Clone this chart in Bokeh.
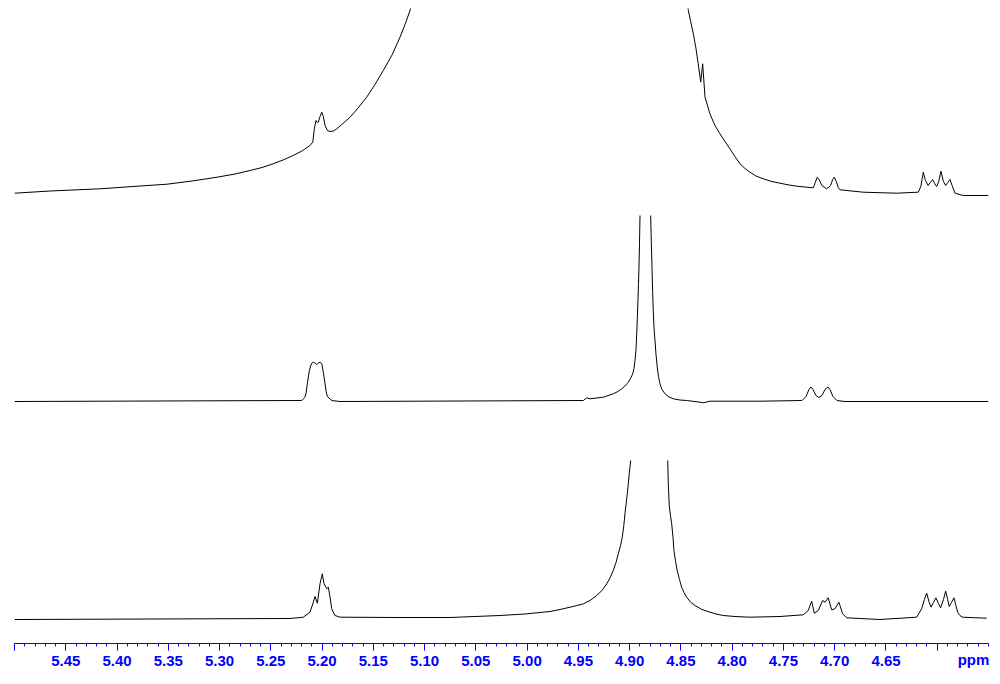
import numpy as np
from bokeh.plotting import figure
from bokeh.models import Range1d, FixedTicker
from bokeh.embed import file_html
from bokeh.resources import INLINE

nan = float("nan")

# ---- tick values (ppm) ----
major_ticks = [5.50, 5.45, 5.40, 5.35, 5.30, 5.25, 5.20, 5.15, 5.10, 5.05, 5.00,
               4.95, 4.90, 4.85, 4.80, 4.75, 4.70, 4.65, 4.60]
tick_labels = ["", "5.45", "5.40", "5.35", "5.30", "5.25", "5.20", "5.15", "5.10", "5.05",
               "5.00", "4.95", "4.90", "4.85", "4.80", "4.75", "4.70", "4.65", ""]
axis_title = "ppm"

# ---- top spectrum (intensity above its own baseline) ----
top_ppm = [5.500, 5.4653, 5.4165, 5.3844, 5.3512, 5.3268, 5.3024, 5.2849, 5.2703,
           5.2586, 5.2478, 5.2381, 5.2283, 5.2196, 5.2118, 5.2091,
           5.2075, 5.2059, 5.2047, 5.2037, 5.2020, 5.2003, 5.1988, 5.1971, 5.1948,
           5.1922, 5.1890, 5.1857, 5.1796, 5.1727, 5.1649, 5.1565, 5.1484, 5.1403,
           5.1318, 5.1240, 5.1191, 5.1142, 5.1110,
           nan,
           4.8445, 4.8428, 4.8407, 4.8379, 4.8353, 4.8331, 4.8307, 4.8288, 4.8265,
           4.8217, 4.8168, 4.8119, 4.8070, 4.8022, 4.7973, 4.7924, 4.7875, 4.7827,
           4.7768, 4.7697, 4.7622, 4.7534, 4.7456, 4.7371, 4.7209, 4.7190,
           4.7170, 4.7150, 4.7125, 4.7079, 4.7040, 4.7020, 4.7004, 4.6985, 4.6965,
           4.6949, 4.6722, 4.6396, 4.6185, 4.6160, 4.6136, 4.6115, 4.6088, 4.6068,
           4.6045, 4.6025, 4.6006, 4.5985, 4.5964, 4.5940, 4.5918, 4.5897, 4.5876,
           4.5855, 4.5827, 4.5746, 4.5583, 4.5500]
top_int = [3.3, 5.5, 7.7, 10.0, 12.3, 15.5, 19.3, 22.5, 26.0,
           29.0, 32.7, 36.5, 41.0, 45.5, 51.0, 54.3,
           68.0, 76.0, 74.0, 74.3, 80.0, 84.3, 80.0, 71.0, 66.0,
           65.0, 65.5, 67.7, 73.0, 79.3, 88.5, 99.3, 112.0, 126.0,
           141.5, 159.3, 172.0, 186.0, 205.0,
           nan,
           205.0, 186.0, 176.0, 162.7, 148.0, 132.7, 114.3, 132.7, 99.3,
           82.7, 71.0, 62.7, 55.0, 47.7, 40.0, 32.7, 28.0, 24.3,
           20.5, 17.7, 15.2, 13.3, 11.7, 10.3, 8.7, 14.0,
           19.3, 16.5, 11.0, 7.7, 11.0, 17.0, 19.3, 15.0, 9.0,
           6.7, 4.3, 3.3, 4.3, 10.0, 24.3, 16.0, 11.0, 14.0,
           17.0, 13.0, 10.0, 15.0, 25.3, 15.0, 11.0, 14.0, 17.0,
           11.0, 3.3, 1.0, 1.0, 1.0]

# ---- middle spectrum ----
mid_ppm = [5.500, 5.2199, 5.2166, 5.2155, 5.2144, 5.2124, 5.2112, 5.2101, 5.2085,
           5.2068, 5.2052, 5.2036, 5.2020, 5.2003, 5.1988, 5.1971, 5.1960, 5.1949,
           5.1906, 5.1825, 4.9452, 4.9419, 4.9387, 4.9257, 4.9160, 4.9114, 4.9078,
           4.9046, 4.9013, 4.8992, 4.8970, 4.8958, 4.8948, 4.8938, 4.8931, 4.8925,
           4.8919, 4.8914, 4.8909, 4.8904, 4.8899,
           nan,
           4.8795, 4.8789, 4.8782, 4.8776, 4.8770, 4.8763, 4.8753, 4.8743, 4.8731,
           4.8719, 4.8704, 4.8685, 4.8655, 4.8616, 4.8574, 4.8509, 4.8444,
           4.8314, 4.8282, 4.8217, 4.7729, 4.7319, 4.7280, 4.7251, 4.7232, 4.7212,
           4.7183, 4.7154, 4.7124, 4.7095, 4.7066, 4.7046, 4.7017, 4.6978, 4.6900,
           4.5500]
mid_int = [0.0, 1.0, 4.3, 9.0, 17.7, 31.0, 35.5, 38.3, 39.3,
           38.5, 37.0, 38.5, 39.3, 37.7, 29.3, 17.7, 10.0, 5.0,
           1.0, 0.0, 1.0, 3.7, 2.7, 4.3, 7.7, 10.0, 12.7,
           15.5, 19.3, 23.0, 27.7, 33.0, 41.0, 52.0, 67.7, 84.0,
           101.0, 117.0, 134.3, 158.0, 186.0,
           nan,
           186.0, 160.0, 134.3, 110.0, 91.0, 75.0, 61.0, 47.0, 34.3,
           25.0, 17.7, 12.0, 7.7, 4.5, 2.7, 1.5, 1.0,
           -0.7, -1.3, 0.3, 0.3, 1.0, 5.0, 12.0, 14.5, 12.0,
           6.0, 4.0, 6.0, 12.0, 14.5, 12.0, 5.0, 1.0, 0.0,
           0.0]

# ---- bottom spectrum ----
bot_ppm = [5.500, 5.2313, 5.2183, 5.2118, 5.2085, 5.2069, 5.2046, 5.2020, 5.1998,
           5.1981, 5.1955, 5.1939, 5.1922, 5.1906, 5.1874, 5.1825, 5.1240, 5.0752,
           5.0265, 5.0021, 4.9777, 4.9679, 4.9582, 4.9514, 4.9452, 4.9387, 4.9322,
           4.9270, 4.9224, 4.9192, 4.9160, 4.9133, 4.9111, 4.9089, 4.9072, 4.9057,
           4.9046, 4.9034, 4.9023, 4.9013, 4.9004, 4.8990,
           nan,
           4.8629, 4.8623, 4.8614, 4.8602, 4.8590, 4.8577, 4.8568, 4.8552, 4.8536,
           4.8514, 4.8493, 4.8470, 4.8444, 4.8407, 4.8363, 4.8295, 4.8217, 4.8158,
           4.8087, 4.7973, 4.7827, 4.7534, 4.7307, 4.7258, 4.7225, 4.7199, 4.7160,
           4.7118, 4.7095, 4.7063, 4.7030, 4.6998, 4.6959, 4.6923, 4.6883, 4.6559,
           4.6201, 4.6152, 4.6125, 4.6103, 4.6081, 4.6061, 4.6037, 4.6013, 4.5988,
           4.5967, 4.5939, 4.5918, 4.5898, 4.5883, 4.5861, 4.5837, 4.5818, 4.5801,
           4.5779, 4.5752, 4.5518]
bot_int = [0.0, 1.0, 2.3, 7.3, 17.3, 23.0, 16.3, 35.7, 45.7,
           35.7, 30.7, 32.3, 22.3, 10.7, 4.0, 2.3, 2.0, 2.0,
           4.0, 5.5, 8.0, 10.0, 12.3, 14.0, 15.7, 19.0, 24.0,
           29.0, 35.7, 41.5, 49.0, 57.0, 65.7, 74.0, 82.3, 94.0,
           105.7, 116.0, 125.7, 136.0, 145.7, 159.0,
           nan,
           159.0, 135.7, 114.0, 104.0, 95.7, 82.0, 69.0, 58.0, 49.0,
           40.0, 32.3, 27.0, 22.3, 17.5, 14.0, 10.0, 7.3, 5.5,
           4.0, 3.0, 2.3, 3.0, 4.7, 9.0, 18.3, 6.3, 9.0,
           19.0, 17.3, 21.7, 9.7, 10.7, 17.3, 5.7, 1.7, 0.0,
           2.3, 10.7, 20.0, 26.3, 18.0, 12.3, 17.0, 21.7, 16.0,
           11.7, 20.0, 28.3, 20.0, 13.0, 17.0, 21.7, 14.0, 7.3,
           4.0, 2.3, 1.3]

# ---- layout (vertical stacking offsets) ----
offsets = {"top": 447, "mid": 242, "bot": 24}

p = figure(width=992, height=676, output_backend="svg", toolbar_location=None,
           x_range=Range1d(5.50, 4.55), y_range=Range1d(0, 635),
           y_axis_location=None, min_border_left=14, min_border_right=4,
           min_border_top=8, min_border_bottom=33)
p.grid.visible = False
p.outline_line_color = None
p.background_fill_color = "white"

for ppm, inten, key in [(top_ppm, top_int, "top"), (mid_ppm, mid_int, "mid"),
                        (bot_ppm, bot_int, "bot")]:
    y = np.array(inten, dtype=float) + offsets[key]
    p.line(np.array(ppm, dtype=float), y, line_color="black", line_width=1)

minor = [round(5.50 - 0.01 * i, 2) for i in range(96)]
p.xaxis.ticker = FixedTicker(ticks=major_ticks, minor_ticks=minor)
p.xaxis.major_label_overrides = {t: l for t, l in zip(major_ticks, tick_labels)}
blue = "#0000ff"
ax = p.xaxis[0]
ax.axis_line_color = blue
ax.major_tick_line_color = blue
ax.minor_tick_line_color = blue
ax.major_tick_out = 7
ax.major_tick_in = 0
ax.minor_tick_out = 3
ax.minor_tick_in = 0
ax.major_label_text_color = blue
ax.major_label_text_font = "Liberation Sans"
ax.major_label_text_font_style = "bold"
ax.major_label_text_font_size = "15px"
ax.major_label_standoff = 5
# the axis title is centred on the frame's right edge; two em spaces shift the
# visible "ppm" so that it ends at the axis end, as in the reference
ax.axis_label = axis_title + "\u2003\u2003"
ax.axis_label_align = "start"
ax.axis_label_standoff = -18
ax.axis_label_text_color = blue
ax.axis_label_text_font = "Liberation Sans"
ax.axis_label_text_font_style = "bold"
ax.axis_label_text_font_size = "15px"

open("out.html", "w").write(file_html(p, INLINE))
